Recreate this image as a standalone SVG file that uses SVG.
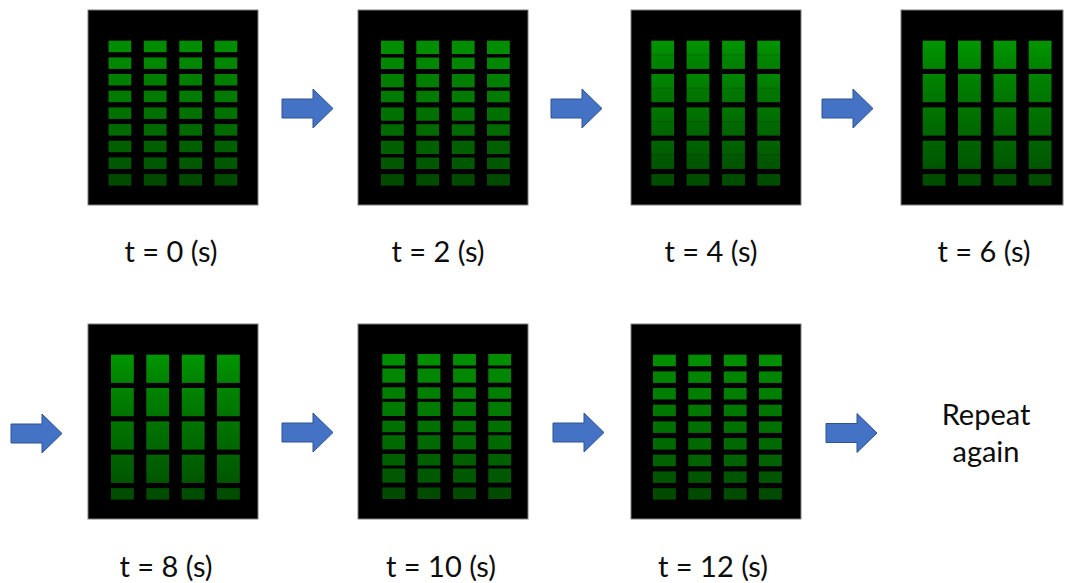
<svg xmlns="http://www.w3.org/2000/svg" width="1065" height="583" viewBox="0 0 1065 583">
  <style>
    .frame { fill: #000; stroke: #7f7f7f; stroke-width: 1; }
    .lbl { font-family: "Lato", "Open Sans", "Liberation Sans", sans-serif; font-size: 29px; fill: #0d0d0d; text-anchor: middle; }
    .arrow { fill: #4472c4; stroke: #2f528f; stroke-width: 1; }
    .cells { filter: url(#soft); }
  </style>
  <defs>
    <filter id="soft" x="-5%" y="-5%" width="110%" height="110%">
      <feGaussianBlur stdDeviation="0.6"/>
    </filter>
    <!-- one row of four cells, in several heights -->
    <g id="row-s"><rect x="0" width="22.8" height="11.5"/><rect x="35.3" width="22.8" height="11.5"/><rect x="70.8" width="22.8" height="11.5"/><rect x="106" width="22.8" height="11.5"/></g>
    <g id="row-a"><rect x="0" width="22.8" height="13.3"/><rect x="35.3" width="22.8" height="13.3"/><rect x="70.8" width="22.8" height="13.3"/><rect x="106" width="22.8" height="13.3"/></g>
    <g id="row-b"><rect x="0" width="22.8" height="14.2"/><rect x="35.3" width="22.8" height="14.2"/><rect x="70.8" width="22.8" height="14.2"/><rect x="106" width="22.8" height="14.2"/></g>
    <g id="row-t"><rect x="0" width="22.8" height="28.2"/><rect x="35.3" width="22.8" height="28.2"/><rect x="70.8" width="22.8" height="28.2"/><rect x="106" width="22.8" height="28.2"/></g>
    <!-- merged cells, plain -->
    <linearGradient id="t0" x1="0" y1="0" x2="0" y2="1"><stop offset="0" stop-color="#009600"/><stop offset="1" stop-color="#008200"/></linearGradient>
    <linearGradient id="t1" x1="0" y1="0" x2="0" y2="1"><stop offset="0" stop-color="#008400"/><stop offset="1" stop-color="#007400"/></linearGradient>
    <linearGradient id="t2" x1="0" y1="0" x2="0" y2="1"><stop offset="0" stop-color="#007400"/><stop offset="1" stop-color="#006600"/></linearGradient>
    <linearGradient id="t3" x1="0" y1="0" x2="0" y2="1"><stop offset="0" stop-color="#006400"/><stop offset="1" stop-color="#005600"/></linearGradient>
    <!-- merged cells with a seam in the middle -->
    <linearGradient id="s0" x1="0" y1="0" x2="0" y2="1"><stop offset="0" stop-color="#009400"/><stop offset="0.47" stop-color="#008c00"/><stop offset="0.5" stop-color="#006c00"/><stop offset="0.54" stop-color="#008600"/><stop offset="1" stop-color="#008000"/></linearGradient>
    <linearGradient id="s1" x1="0" y1="0" x2="0" y2="1"><stop offset="0" stop-color="#008400"/><stop offset="0.47" stop-color="#007e00"/><stop offset="0.5" stop-color="#006200"/><stop offset="0.54" stop-color="#007800"/><stop offset="1" stop-color="#007200"/></linearGradient>
    <linearGradient id="s2" x1="0" y1="0" x2="0" y2="1"><stop offset="0" stop-color="#007400"/><stop offset="0.47" stop-color="#006e00"/><stop offset="0.5" stop-color="#005400"/><stop offset="0.54" stop-color="#006a00"/><stop offset="1" stop-color="#006400"/></linearGradient>
    <linearGradient id="s3" x1="0" y1="0" x2="0" y2="1"><stop offset="0" stop-color="#006400"/><stop offset="0.47" stop-color="#005e00"/><stop offset="0.5" stop-color="#004600"/><stop offset="0.54" stop-color="#005a00"/><stop offset="1" stop-color="#005400"/></linearGradient>
    <path id="arr" d="M-51,-9.5 H-20 V-19.5 L0,0 L-20,19.5 V9.5 H-51 Z"/>
  </defs>

  <rect width="1065" height="583" fill="#fff"/>

  <!-- t = 0 -->
  <g id="frame-t0">
    <rect class="frame" x="88" y="10" width="170" height="195"/>
    <g class="cells" transform="translate(108.5,0)">
      <use href="#row-s" y="40.7" fill="#008c00"/>
      <use href="#row-s" y="57.4" fill="#008600"/>
      <use href="#row-s" y="74.0" fill="#007e00"/>
      <use href="#row-s" y="90.7" fill="#007a00"/>
      <use href="#row-s" y="107.4" fill="#007000"/>
      <use href="#row-s" y="124.1" fill="#006a00"/>
      <use href="#row-s" y="140.7" fill="#006000"/>
      <use href="#row-s" y="157.4" fill="#005800"/>
      <use href="#row-s" y="174.1" fill="#004c00"/>
    </g>
    <text class="lbl" x="171" y="262">t = 0 (s)</text>
  </g>

  <!-- t = 2 -->
  <g id="frame-t2">
    <rect class="frame" x="358" y="10" width="170" height="195"/>
    <g class="cells" transform="translate(381,0)">
      <use href="#row-a" y="40.7" fill="#008e00"/>
      <use href="#row-s" y="57.5" fill="#008600"/>
      <use href="#row-a" y="74.0" fill="#007e00"/>
      <use href="#row-s" y="90.8" fill="#007a00"/>
      <use href="#row-a" y="107.4" fill="#007000"/>
      <use href="#row-s" y="124.2" fill="#006a00"/>
      <use href="#row-a" y="140.7" fill="#006000"/>
      <use href="#row-s" y="157.5" fill="#005800"/>
      <use href="#row-s" y="174.1" fill="#004c00"/>
    </g>
    <text class="lbl" x="438" y="262">t = 2 (s)</text>
  </g>

  <!-- t = 4 -->
  <g id="frame-t4">
    <rect class="frame" x="631" y="10" width="170" height="195"/>
    <g class="cells" transform="translate(651.3,0)">
      <use href="#row-t" y="40.7" fill="url(#s0)"/>
      <use href="#row-t" y="74.0" fill="url(#s1)"/>
      <use href="#row-t" y="107.4" fill="url(#s2)"/>
      <use href="#row-t" y="140.7" fill="url(#s3)"/>
      <use href="#row-s" y="174.1" fill="#004e00"/>
    </g>
    <text class="lbl" x="711" y="262">t = 4 (s)</text>
  </g>

  <!-- t = 6 -->
  <g id="frame-t6">
    <rect class="frame" x="901" y="10" width="162" height="195"/>
    <g class="cells" transform="translate(922.7,0)">
      <use href="#row-t" y="40.7" fill="url(#t0)"/>
      <use href="#row-t" y="74.0" fill="url(#t1)"/>
      <use href="#row-t" y="107.4" fill="url(#t2)"/>
      <use href="#row-t" y="140.7" fill="url(#t3)"/>
      <use href="#row-s" y="174.1" fill="#004e00"/>
    </g>
    <text class="lbl" x="984" y="262">t = 6 (s)</text>
  </g>

  <!-- t = 8 -->
  <g id="frame-t8">
    <rect class="frame" x="88" y="324" width="170" height="195"/>
    <g class="cells" transform="translate(111,0)">
      <use href="#row-t" y="354.7" fill="url(#t0)"/>
      <use href="#row-t" y="388.0" fill="url(#t1)"/>
      <use href="#row-t" y="421.4" fill="url(#t2)"/>
      <use href="#row-t" y="454.7" fill="url(#t3)"/>
      <use href="#row-s" y="488.1" fill="#004e00"/>
    </g>
    <text class="lbl" x="166" y="577">t = 8 (s)</text>
  </g>

  <!-- t = 10 -->
  <g id="frame-t10">
    <rect class="frame" x="358" y="324" width="170" height="195"/>
    <g class="cells" transform="translate(382.3,0)">
      <use href="#row-s" y="354.0" fill="#008e00"/>
      <use href="#row-b" y="368.5" fill="#008600"/>
      <use href="#row-s" y="387.3" fill="#007e00"/>
      <use href="#row-b" y="401.8" fill="#007a00"/>
      <use href="#row-s" y="420.7" fill="#007000"/>
      <use href="#row-b" y="435.2" fill="#006a00"/>
      <use href="#row-s" y="454.0" fill="#006000"/>
      <use href="#row-b" y="468.5" fill="#005800"/>
      <use href="#row-s" y="487.5" fill="#004c00"/>
    </g>
    <text class="lbl" x="441" y="577">t = 10 (s)</text>
  </g>

  <!-- t = 12 -->
  <g id="frame-t12">
    <rect class="frame" x="631" y="324" width="170" height="195"/>
    <g class="cells" transform="translate(653,0)">
      <use href="#row-s" y="354.7" fill="#008e00"/>
      <use href="#row-s" y="371.4" fill="#008400"/>
      <use href="#row-s" y="388.0" fill="#007e00"/>
      <use href="#row-s" y="404.7" fill="#007800"/>
      <use href="#row-s" y="421.4" fill="#007000"/>
      <use href="#row-s" y="438.1" fill="#006a00"/>
      <use href="#row-s" y="454.7" fill="#006200"/>
      <use href="#row-s" y="471.4" fill="#005600"/>
      <use href="#row-s" y="488.1" fill="#004c00"/>
    </g>
    <text class="lbl" x="713" y="577">t = 12 (s)</text>
  </g>

  <!-- closing note -->
  <g id="repeat">
    <text class="lbl" x="986" y="425">Repeat</text>
    <text class="lbl" x="986" y="462">again</text>
  </g>

  <!-- step arrows -->
  <g id="connectors">
    <use href="#arr" class="arrow" transform="translate(333,108.5)"/>
    <use href="#arr" class="arrow" transform="translate(602,108.5)"/>
    <use href="#arr" class="arrow" transform="translate(873,108.5)"/>
    <use href="#arr" class="arrow" transform="translate(62,433.5)"/>
    <use href="#arr" class="arrow" transform="translate(333,432.5)"/>
    <use href="#arr" class="arrow" transform="translate(604,432.5)"/>
    <use href="#arr" class="arrow" transform="translate(877,433)"/>
  </g>
</svg>
